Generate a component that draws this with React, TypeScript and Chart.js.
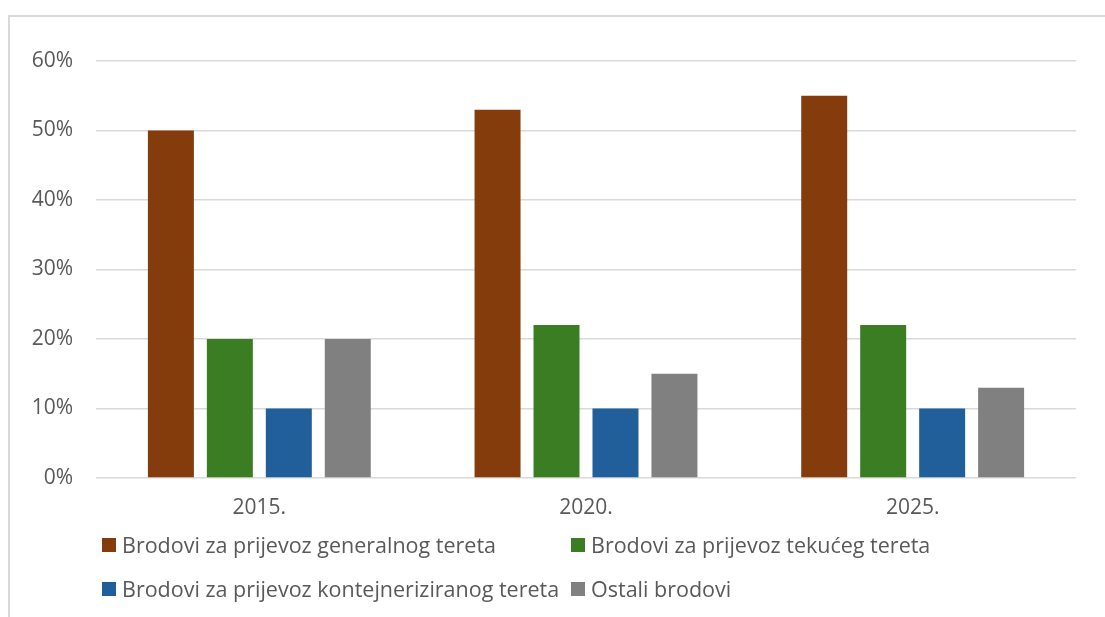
import React, { useEffect, useRef } from "react";
import { Chart, registerables } from "chart.js";

Chart.register(...registerables);

const categories = ["2015.", "2020.", "2025."];
const seriesNames = [
  "Brodovi za prijevoz generalnog tereta",
  "Brodovi za prijevoz tekućeg tereta",
  "Brodovi za prijevoz kontejneriziranog tereta",
  "Ostali brodovi",
];
const generalCargo = [50, 53, 55];
const liquidCargo = [20, 22, 22];
const containerCargo = [10, 10, 10];
const otherShips = [20, 15, 13];
const seriesColors = ["#843C0C", "#3B7D23", "#215F9A", "#808080"];
const yTicks = [0, 10, 20, 30, 40, 50, 60];

const FONT = "'Open Sans', 'Noto Sans', sans-serif";
const TEXT = "#595959";
const FS = 21;

export default function App() {
  const ref = useRef<HTMLCanvasElement | null>(null);

  useEffect(() => {
    document.body.style.overflow = "hidden";
    const values = [generalCargo, liquidCargo, containerCargo, otherShips];
    const chart = new Chart(ref.current as HTMLCanvasElement, {
      type: "bar",
      data: {
        labels: categories,
        datasets: seriesNames.map((name, i) => ({
          label: name,
          data: values[i],
          backgroundColor: seriesColors[i],
          borderWidth: 0,
          categoryPercentage: 0.722,
          barPercentage: 0.78,
        })),
      },
      options: {
        animation: false,
        responsive: false,
        maintainAspectRatio: false,
        layout: { padding: { top: 61, right: 29, bottom: 89, left: 0 } },
        plugins: {
          legend: { display: false },
          tooltip: { enabled: false },
          title: { display: false },
        },
        scales: {
          x: {
            grid: { display: false, drawTicks: false },
            border: { display: false },
            ticks: {
              color: TEXT,
              font: { family: FONT, size: FS },
              padding: 17,
            },
            afterFit: (s: any) => {
              s.height = 50;
            },
          },
          y: {
            min: 0,
            max: 60,
            afterBuildTicks: (s: any) => {
              s.ticks = yTicks.map((v) => ({ value: v }));
            },
            grid: { color: "#d9d9d9", lineWidth: 1.5, drawTicks: false },
            border: { display: false },
            ticks: {
              color: TEXT,
              font: { family: FONT, size: FS },
              padding: 23,
              callback: (v: any) => v + "%",
            },
            afterFit: (s: any) => {
              s.width = 96;
            },
          },
        },
      },
    });
    return () => chart.destroy();
  }, []);

  const legendItem = (i: number, left: number, top: number) => (
    <div
      key={i}
      style={{
        position: "absolute",
        left,
        top,
        display: "flex",
        alignItems: "center",
        whiteSpace: "nowrap",
        fontFamily: FONT,
        fontSize: 21.5,
        color: TEXT,
        lineHeight: "24px",
        height: 24,
      }}
    >
      <span
        style={{
          display: "inline-block",
          width: 14,
          height: 14,
          background: seriesColors[i],
          marginRight: 6,
          flex: "none",
        }}
      />
      <span>{seriesNames[i]}</span>
    </div>
  );

  return (
    <div>
      <div
        style={{
          position: "fixed",
          left: 8,
          top: 15,
          width: 1110,
          height: 620,
          borderLeft: "2px solid #d9d9d9",
          borderTop: "2px solid #d9d9d9",
          boxSizing: "border-box",
          background: "#fff",
        }}
      />
      <canvas
        ref={ref}
        width={1105}
        height={617}
        style={{ position: "fixed", left: 0, top: 0, width: 1105, height: 617 }}
      />
      {legendItem(0, 102, 533)}
      {legendItem(1, 571, 533)}
      {legendItem(2, 102, 577)}
      {legendItem(3, 571, 577)}
    </div>
  );
}
